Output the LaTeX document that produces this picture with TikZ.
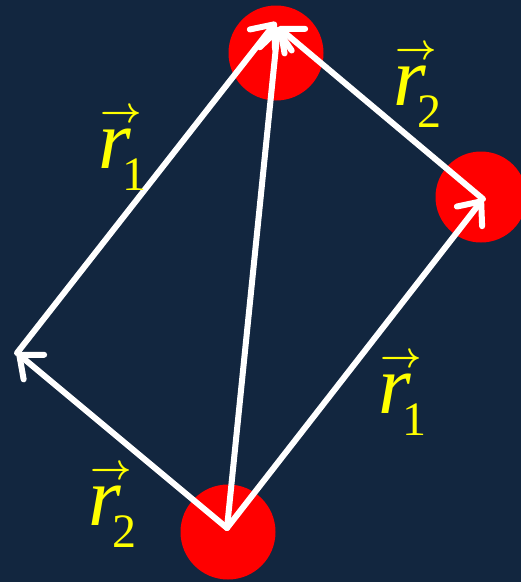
\documentclass[tikz,border=0pt]{standalone}
\usepackage{fontspec}
\setmainfont{Liberation Serif}
\usepackage{amsmath,amsbsy,graphicx}
\usetikzlibrary{arrows.meta}
\definecolor{bgnavy}{HTML}{12263F}
\definecolor{dotred}{HTML}{FF0000}
\definecolor{labyellow}{HTML}{FFFF00}
\newcommand\myvecr[1]{\fontsize{84}{84}\selectfont\rlap{\raisebox{46pt}{\kern2pt\scalebox{3.6}{\fontsize{10}{10}\selectfont$\boldsymbol{\rightarrow}$}}}\textit{r}\kern-0.1em\raisebox{-0.27em}{\fontsize{48}{48}\selectfont #1}}
\tikzset{
  dot/.style={circle, fill=dotred, minimum size=95pt, inner sep=0pt},
  vecline/.style={draw=white, line width=6pt, line cap=round,
    -{Straight Barb[length=19pt, width=32pt, line width=6pt, round]}},
  lab/.style={text=labyellow, inner sep=0pt, anchor=base west}
}
\begin{document}
\begin{tikzpicture}[x=1pt, y=-1pt]
\useasboundingbox[fill=bgnavy] (0,0) rectangle (521,582);
\node[dot] (ctop) at (276,53) {};
\node[dot, minimum size=91pt] (cright) at (481,197) {};
\node[dot] (cbot) at (228,532) {};
\coordinate (bot) at (227,528);
\coordinate (left) at (17,353);
\coordinate (top) at (276,22);
\coordinate (topb) at (278,27);
\coordinate (right) at (483,199);
\draw[vecline] (bot) -- (left);
\draw[vecline] (left) -- (top);
\draw[vecline] (bot) -- (right);
\draw[vecline] (right) -- (topb);
\draw[vecline] (bot) -- (topb);
\node[lab] (l1) at (98,168) {\myvecr{1}};
\node[lab] (l2) at (393,105) {\myvecr{2}};
\node[lab] (l3) at (378,413) {\myvecr{1}};
\node[lab] (l4) at (88,525) {\myvecr{2}};
\end{tikzpicture}
\end{document}
